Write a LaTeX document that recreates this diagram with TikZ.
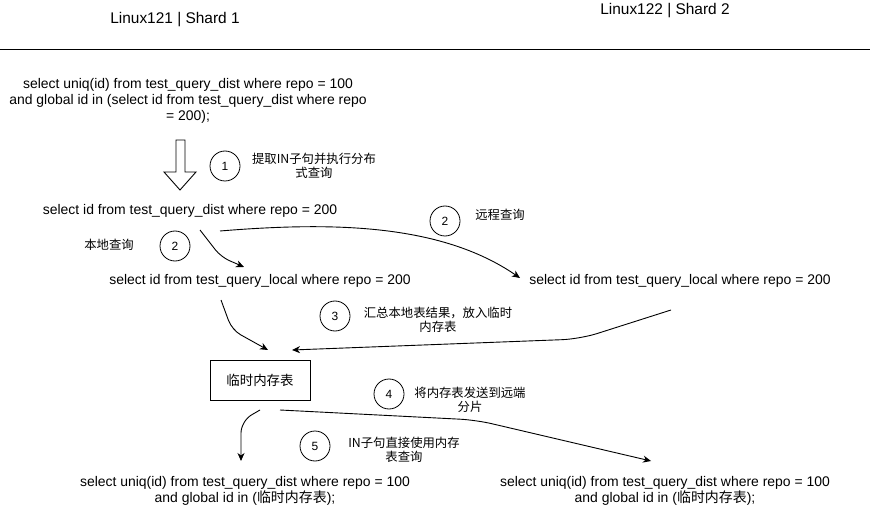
\documentclass[tikz,border=0pt]{standalone}
\usepackage{fontspec}
\setmainfont{Liberation Sans}
\newfontfamily\cjk{Noto Sans CJK SC}
\usetikzlibrary{arrows.meta}
\begin{document}
\begin{tikzpicture}[x=1bp,y=-1bp,
  txt/.style={inner sep=0pt, align=center, font=\fontsize{14}{16}\selectfont},
  ttl/.style={inner sep=0pt, font=\fontsize{15.5}{18}\selectfont},
  lbl/.style={inner sep=0pt, align=center, font=\cjk\fontsize{12.4}{14.5}\selectfont},
  num/.style={circle, draw, line width=0.8bp, minimum size=30bp, inner sep=0pt, font=\fontsize{12}{12}\selectfont},
  conn/.style={draw, line width=0.9bp, -{Stealth[length=8bp,width=7bp,inset=2.5bp]}},
  boxst/.style={draw, line width=0.9bp, minimum width=100bp, minimum height=40bp, inner sep=0pt, font=\cjk\fontsize{13.5}{15}\selectfont},
]
\useasboundingbox (0,0) rectangle (872,508);
\fill[white] (0,0) rectangle (872,508);

% titles and separator
\node[ttl] (t1) at (175,20) {Linux121 | Shard 1};
\node[ttl] (t2) at (665,11) {Linux122 | Shard 2};
\coordinate (sepL) at (0,49);
\coordinate (sepR) at (870,49);
\draw[line width=0.9bp] (sepL) -- (sepR);

% original query
\node[txt] (q0) at (188,101) {select uniq(id) from test\_query\_dist where repo = 100\\and global id in (select id from test\_query\_dist where repo\\= 200);};

% hollow block arrow
\draw[line width=0.9bp, fill=white] (176,140) -- (185,140) -- (185,172) -- (196,172) -- (180,190) -- (164,172) -- (176,172) -- cycle;
\node[num] (c1) at (225,166) {1};
\node[lbl] (l1) at (314,166) {提取IN子句并执行分布\\式查询};

% distributed subquery
\node[txt] (q1) at (190,211) {select id from test\_query\_dist where repo = 200};
\node[lbl] (l2a) at (109,245) {本地查询};
\node[num] (c2a) at (175,246) {2};
\node[num] (c2b) at (445,221) {2};
\node[lbl] (l2b) at (500,215) {远程查询};

\node[txt] (ql) at (260,281) {select id from test\_query\_local where repo = 200};
\node[txt] (qr) at (680,281) {select id from test\_query\_local where repo = 200};

\coordinate (a1s) at (200,230);
\coordinate (a1e) at (244,267);
\draw[conn, rounded corners=9bp] (a1s) -- (221,257) -- (a1e);

\coordinate (a2s) at (220,231);
\coordinate (a2e) at (520,278);
\draw[conn] (a2s) .. controls (330,222) and (440,223) .. (a2e);

% gather
\node[num] (c3) at (335,316) {3};
\node[lbl] (l3) at (438,320) {汇总本地表结果，放入临时\\内存表};

\coordinate (a3s) at (221,300);
\coordinate (a3e) at (268,350);
\draw[conn, rounded corners=10bp] (a3s) -- (232,330) -- (a3e);

\coordinate (a4s) at (671,310);
\coordinate (a4e) at (292,350);
\draw[conn, rounded corners=18bp] (a4s) -- (580,339) -- (a4e);

\node[boxst] (tmp) at (260,380) {临时内存表};

% send
\node[num] (c4) at (389,394) {4};
\node[lbl] (l4) at (470,400) {将内存表发送到远端\\分片};
\node[num] (c5) at (315,446) {5};
\node[lbl] (l5) at (404,450) {IN子句直接使用内存\\表查询};

\coordinate (a5s) at (260,410);
\coordinate (a5e) at (241,461);
\draw[conn, rounded corners=12bp] (a5s) -- (241,421) -- (a5e);

\coordinate (a6s) at (280,410);
\coordinate (a6e) at (651,461);
\draw[conn, rounded corners=16bp] (a6s) -- (476,420) -- (a6e);

% final queries
\node[txt] (fl) at (245,491) {select uniq(id) from test\_query\_dist where repo = 100\\and global id in ({\cjk 临时内存表});};
\node[txt] (fr) at (665,491) {select uniq(id) from test\_query\_dist where repo = 100\\and global id in ({\cjk 临时内存表});};
\end{tikzpicture}
\end{document}
